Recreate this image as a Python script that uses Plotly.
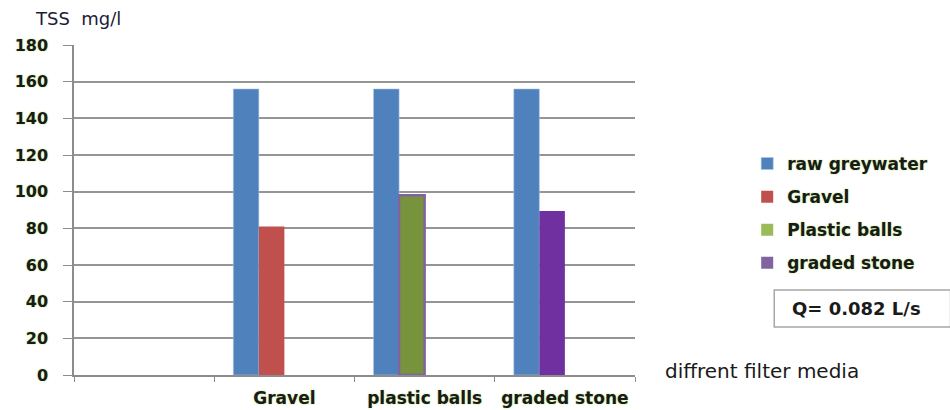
import plotly.graph_objects as go

categories = [" ", "Gravel", "plastic balls", "graded stone"]
raw_greywater = [None, 156, 156, 156]
gravel = [None, 81, None, None]
plastic_balls = [None, None, 98, None]
graded_stone = [None, None, None, 89.5]
y_ticks = [0, 20, 40, 60, 80, 100, 120, 140, 160, 180]

FONT = "DejaVu Sans"
GLOW = "0px 0px 2px #bfe58a, 0px 0px 1px #cdeea0"
W = 0.182

fig = go.Figure()
fig.add_trace(go.Bar(
    x=categories, y=raw_greywater, name="raw greywater",
    marker=dict(color="#4F81BD", line=dict(color="#a9c2e0", width=0.6)),
    width=W, offset=-2 * W, legendgroup="a"))
fig.add_trace(go.Bar(
    x=categories, y=gravel, name="Gravel",
    marker=dict(color="#C0504D", line=dict(width=0)),
    width=W, offset=-W, legendgroup="b"))
fig.add_trace(go.Bar(
    x=categories, y=plastic_balls, name="Plastic balls",
    marker=dict(color=["#9BBB59", "#9BBB59", "#77933C", "#9BBB59"],
                line=dict(color=["#9BBB59", "#9BBB59", "#8064A2", "#9BBB59"],
                          width=[0, 0, 2.5, 0])),
    width=W, offset=-W, legendgroup="c"))
fig.add_trace(go.Bar(
    x=categories, y=graded_stone, name="graded stone",
    marker=dict(color=["#8064A2", "#8064A2", "#8064A2", "#7030A0"],
                line=dict(width=0)),
    width=W, offset=-W, legendgroup="d"))

fig.update_layout(
    width=950, height=410,
    margin=dict(l=74, r=315, t=45, b=35, autoexpand=False),
    paper_bgcolor="white", plot_bgcolor="white",
    barmode="overlay",
    font=dict(family=FONT, color="#1a1a1a"),
    showlegend=True,
    legend=dict(x=1.2, y=0.694, xanchor="left", yanchor="top",
                font=dict(family=FONT, size=17, color="#1a1a1a", weight="bold", shadow=GLOW),
                tracegroupgap=8, bgcolor="rgba(0,0,0,0)", traceorder="grouped"),
    xaxis=dict(type="category", categoryorder="array", categoryarray=categories,
               range=[-0.5, 3.5], tickson="boundaries", ticks="outside", ticklen=5,
               tickcolor="#8c8c8c", showline=True, linecolor="#8c8c8c", linewidth=1.5,
               showgrid=False, ticklabelstandoff=7, automargin=False,
               tickfont=dict(family=FONT, size=17, color="#1a1a1a", weight="bold", shadow=GLOW)),
    yaxis=dict(range=[0, 180], tickvals=y_ticks, ticks="outside", ticklen=9,
               tickcolor="#8c8c8c", showline=True, linecolor="#8c8c8c", linewidth=1.5,
               showgrid=True, gridcolor="#959595", gridwidth=1.5, zeroline=False,
               ticklabelstandoff=12, automargin=False,
               tickfont=dict(family=FONT, size=16, color="#1a1a1a", weight="bold", shadow=GLOW)),
)

fig.add_annotation(text="TSS&nbsp; mg/l", xref="paper", yref="paper",
                   x=(33 - 74) / 560, y=(375 - 18) / 330, xanchor="left", yanchor="middle",
                   showarrow=False, font=dict(family=FONT, size=18, color="#1c1c3a"))
fig.add_annotation(text="diffrent filter media", xref="paper", yref="paper",
                   x=(662 - 74) / 560, y=(375 - 371) / 330, xanchor="left", yanchor="middle",
                   showarrow=False, font=dict(family=FONT, size=20, color="#1a1a1a"))
fig.add_shape(type="rect", xref="paper", yref="paper",
              x0=(773 - 74) / 560, x1=(949 - 74) / 560,
              y0=(375 - 327) / 330, y1=(375 - 290) / 330,
              line=dict(color="#a6a6a6", width=1.5), fillcolor="white")
fig.add_annotation(text="<b>Q= 0.082 L/s</b>", xref="paper", yref="paper",
                   x=(789 - 74) / 560, y=(375 - 308) / 330, xanchor="left", yanchor="middle",
                   showarrow=False, font=dict(family=FONT, size=18, color="#1a1a1a"))

fig.write_html("out.html")
